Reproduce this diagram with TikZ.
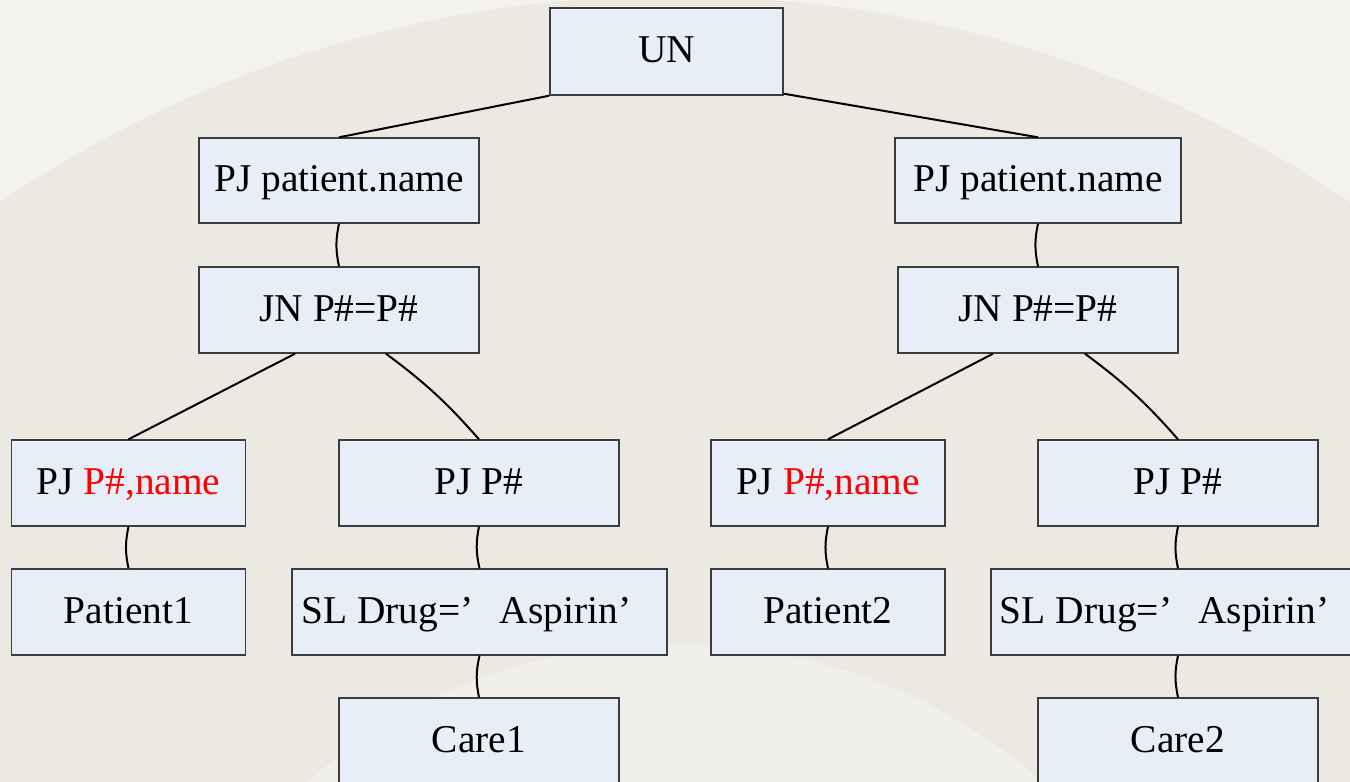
\documentclass[tikz,border=0pt]{standalone}
\usepackage{fontspec}
\setmainfont{Liberation Serif}
\definecolor{paper}{HTML}{F3F2EC}
\definecolor{fan}{HTML}{EBE9E2}
\definecolor{boxfill}{HTML}{E8EEF8}
\definecolor{boxline}{HTML}{3C3C3C}
\definecolor{hl}{HTML}{FF0000}
% full-width closing quote: the mark sits at the left of a 1em cell
\newcommand{\fq}{\makebox[1em][l]{’}}
\begin{document}
\begin{tikzpicture}[x=0.5pt,y=-0.5pt,
  opbox/.style={draw=boxline, fill=boxfill, line width=0.7pt, inner sep=0pt,
    text height=14pt, text depth=3pt,
    font=\fontsize{19.7}{22}\selectfont},
  link/.style={draw=black, line width=1pt},
  curl/.style={link, bend right=12}]
  \clip (0,0) rectangle (1350,782);
  % paper with a faint fan behind the tree
  \fill[paper] (0,0) rectangle (1350,782);
  \fill[fan] (675,1204) circle[radius=1208];
  \fill[paper!70!fan] (675,1204) circle[radius=560];

  % root and the two projections under the union
  \node[opbox, minimum width=116.5pt, minimum height=43.5pt] (un) at (666.5,51.5) {UN};
  \node[opbox, minimum width=140pt, minimum height=42.5pt] (pl) at (339,180.5) {PJ patient.name};
  \node[opbox, minimum width=143pt, minimum height=42.5pt] (pr) at (1038,180.5) {PJ patient.name};

  % joins
  \node[opbox, minimum width=140pt, minimum height=43pt] (jl) at (339,310) {JN P\#=P\#};
  \node[opbox, minimum width=140pt, minimum height=43pt] (jr) at (1038,310) {JN P\#=P\#};

  % projections feeding the joins
  \node[opbox, minimum width=117pt, minimum height=43pt] (al) at (128.5,483) {PJ \textcolor{hl}{P\#,name}};
  \node[opbox, minimum width=140pt, minimum height=43pt] (bl) at (479,483) {PJ P\#};
  \node[opbox, minimum width=117pt, minimum height=43pt] (ar) at (828,483) {PJ \textcolor{hl}{P\#,name}};
  \node[opbox, minimum width=140pt, minimum height=43pt] (br) at (1178,483) {PJ P\#};

  % base relations and selections
  \node[opbox, minimum width=187.5pt, minimum height=43pt] (sl) at (479.5,612) {SL Drug=\fq Aspirin\fq};
  \node[opbox, minimum width=117pt, minimum height=43pt] (cl) at (128.5,612) {Patient1};
  \node[opbox, minimum width=117pt, minimum height=43pt] (cr) at (828,612) {Patient2};
  \node[opbox, minimum width=187pt, minimum height=43pt] (sr) at (1178,612) {SL Drug=\fq Aspirin\fq};
  \node[opbox, minimum width=140pt, minimum height=43pt] (kl) at (479,741) {Care1};
  \node[opbox, minimum width=140pt, minimum height=43pt] (kr) at (1178,741) {Care2};

  % edges of the tree
  \draw[link] (un.south west) -- (pl.north);
  \draw[link] ([yshift=1pt]un.south east) -- (pr.north);
  \draw[curl] (pl.south) to (jl.north);
  \draw[curl] (pr.south) to (jr.north);
  \draw[link] ([xshift=-22pt]jl.south) -- (al.north);
  \draw[link] ([xshift=23.5pt]jl.south) to[bend left=6] (bl.north);
  \draw[link] ([xshift=-22.5pt]jr.south) -- (ar.north);
  \draw[link] ([xshift=23.5pt]jr.south) to[bend left=6] (br.north);
  \draw[curl] (al.south) to (cl.north);
  \draw[curl] (bl.south) to (sl.north);
  \draw[curl] (sl.south) to (kl.north);
  \draw[curl] (ar.south) to (cr.north);
  \draw[curl] (br.south) to (sr.north);
  \draw[curl] (sr.south) to (kr.north);
\end{tikzpicture}
\end{document}
